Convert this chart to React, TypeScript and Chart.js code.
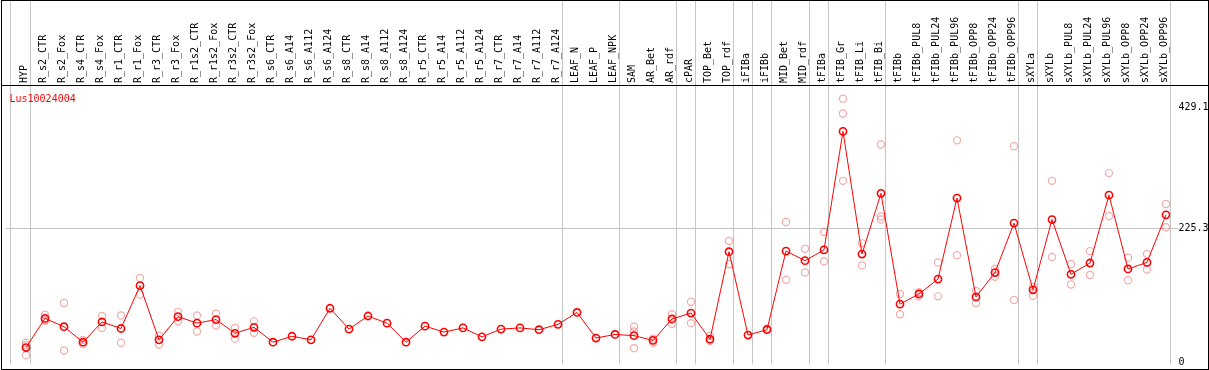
import { useEffect, useRef } from 'react';
import { Chart, registerables } from 'chart.js';

Chart.register(...registerables);

const seriesName = 'Lus10024004';

const categories = [
  'HYP', 'R_s2_CTR', 'R_s2_Fox', 'R_s4_CTR', 'R_s4_Fox', 'R_r1_CTR', 'R_r1_Fox', 'R_r3_CTR', 'R_r3_Fox',
  'R_r1s2_CTR', 'R_r1s2_Fox', 'R_r3s2_CTR', 'R_r3s2_Fox', 'R_s6_CTR', 'R_s6_A14', 'R_s6_A112', 'R_s6_A124',
  'R_s8_CTR', 'R_s8_A14', 'R_s8_A112', 'R_s8_A124', 'R_r5_CTR', 'R_r5_A14', 'R_r5_A112', 'R_r5_A124',
  'R_r7_CTR', 'R_r7_A14', 'R_r7_A112', 'R_r7_A124', 'LEAF_N', 'LEAF_P', 'LEAF_NPK', 'SAM', 'AR_Bet', 'AR_rdf',
  'cPAR', 'TOP_Bet', 'TOP_rdf', 'iFIBa', 'iFIBb', 'MID_Bet', 'MID_rdf', 'tFIBa', 'tFIB_Gr', 'tFIB_Li', 'tFIB_Bi',
  'tFIBb', 'tFIBb_PUL8', 'tFIBb_PUL24', 'tFIBb_PUL96', 'tFIBb_OPP8', 'tFIBb_OPP24', 'tFIBb_OPP96',
  'sXYLa', 'sXYLb', 'sXYLb_PUL8', 'sXYLb_PUL24', 'sXYLb_PUL96', 'sXYLb_OPP8', 'sXYLb_OPP24', 'sXYLb_OPP96',
];

const means = [
  25, 74, 60, 34, 68, 57, 129, 38, 77, 66, 72, 49, 59, 34, 44, 38, 91, 56, 78, 66, 34,
  61, 51, 58, 43, 56, 58, 55, 64, 84, 41, 47, 45, 37, 73, 83, 39, 186, 46, 55, 187, 171,
  189, 388, 182, 284, 98, 115, 140, 276, 110, 151, 234, 122, 240, 148, 167, 281, 157, 168, 248,
];

const replicates: number[][] = [
  [33, 29, 12], [80, 72, 70], [100, 20], [38, 31], [78, 58], [79, 33], [142, 114], [45, 30], [85, 69],
  [79, 52], [82, 62], [58, 40], [69, 50], [], [], [], [], [], [], [], [],
  [], [], [], [], [], [], [], [], [], [], [], [60, 52, 24], [40, 33, 37], [81, 65], [102, 66], [45, 36],
  [204, 165], [], [57], [236, 139], [191, 151], [219, 170], [443, 418, 305], [200, 163], [366, 245, 240],
  [115, 81], [118, 111], [168, 111], [373, 180], [120, 100], [157, 144], [363, 105], [127, 112], [305, 177],
  [165, 131], [187, 147], [318, 246], [176, 138], [182, 156], [266, 227],
];

// index of the last category in each group (a separator follows it)
const groupEnds = [0, 28, 31, 34, 35, 37, 38, 39, 41, 42, 45, 52, 53, 60];
const leadingSeparator = -0.8;

const yTickValues = [0, 225.3, 429.1];
const yTickLabels = ['0', '225.3', '429.1'];

export default function App() {
  const ref = useRef<HTMLCanvasElement>(null);

  useEffect(() => {
    document.body.style.margin = '0';
    const canvas = ref.current;
    if (!canvas) return;

    const LABEL_SHIFT = 0.55;
    const SEP_SHIFT = 0.237;
    const n = categories.length;
    const tickValues = [
      ...categories.map((_, i) => i + LABEL_SHIFT),
      leadingSeparator,
      ...groupEnds.map((g) => g + SEP_SHIFT),
    ];

    const frame = {
      id: 'frame',
      afterDraw(chart: any) {
        const ctx = chart.ctx;
        ctx.save();
        ctx.strokeStyle = '#000';
        ctx.lineWidth = 1;
        ctx.strokeRect(1.5, 0.5, chart.width - 2, chart.height - 1);
        ctx.beginPath();
        ctx.moveTo(1, chart.chartArea.top + 0.5);
        ctx.lineTo(chart.width, chart.chartArea.top + 0.5);
        ctx.stroke();
        ctx.fillStyle = '#ff0000';
        ctx.font = '10px "DejaVu Sans Mono"';
        ctx.textBaseline = 'alphabetic';
        ctx.textAlign = 'left';
        ctx.fillText(chart.data.datasets[0].label, 9.5, chart.chartArea.top + 16.5);
        ctx.restore();
      },
    };

    const chart = new Chart(canvas, {
      type: 'line',
      data: {
        datasets: [
          {
            label: seriesName,
            data: means.map((v, i) => ({ x: i, y: v })),
            borderColor: '#ff0000',
            borderWidth: 1,
            pointRadius: 3.6,
            pointBorderWidth: 1.6,
            pointBorderColor: '#ff0000',
            pointBackgroundColor: 'rgba(0,0,0,0)',
            order: 0,
          },
          {
            label: 'replicates',
            data: replicates.flatMap((r, i) => r.map((v) => ({ x: i, y: v }))),
            showLine: false,
            pointRadius: 3.6,
            pointBorderWidth: 1.2,
            pointBorderColor: 'rgba(230,90,90,0.5)',
            pointBackgroundColor: 'rgba(0,0,0,0)',
            order: 1,
          },
        ],
      },
      options: {
        animation: false,
        responsive: false,
        layout: { padding: { left: 2, right: 0, top: 0, bottom: 1 } },
        plugins: {
          legend: { display: false },
          tooltip: { enabled: false },
          title: { display: false },
        },
        scales: {
          x: {
            type: 'linear',
            position: 'top',
            min: -1.074,
            max: 60.237,
            afterBuildTicks: (scale: any) => {
              scale.ticks = tickValues.map((v) => ({ value: v }));
            },
            afterFit: (scale: any) => {
              scale.height = 85;
              scale.paddingLeft = 0;
              scale.paddingRight = 0;
            },
            ticks: {
              autoSkip: false,
              minRotation: 90,
              maxRotation: 90,
              padding: -83,
              color: '#000',
              font: { family: 'DejaVu Sans Mono', size: 10 },
              callback: (_v: any, index: number) => (index < n ? categories[index] : ''),
            },
            grid: {
              color: (ctx: any) => (ctx.index >= n ? '#c4c4c4' : 'rgba(0,0,0,0)'),
              lineWidth: 1,
              drawTicks: true,
              tickLength: 85,
            },
            border: { display: false },
          },
          y: {
            type: 'linear',
            position: 'right',
            min: -3.27,
            max: 465.96,
            afterBuildTicks: (scale: any) => {
              scale.ticks = yTickValues.map((v) => ({ value: v }));
            },
            afterFit: (scale: any) => {
              scale.width = 38.5;
              scale.paddingTop = 0;
              scale.paddingBottom = 0;
            },
            ticks: {
              padding: 0,
              color: '#000',
              font: { family: 'DejaVu Sans Mono', size: 10 },
              callback: (_v: any, index: number) => yTickLabels[index],
            },
            grid: {
              color: (ctx: any) => (ctx.tick && ctx.tick.value === 225.3 ? '#c4c4c4' : 'rgba(0,0,0,0)'),
              lineWidth: 1,
              drawTicks: true,
              tickLength: 8,
            },
            border: { display: false },
          },
        },
      },
      plugins: [frame],
    });

    return () => chart.destroy();
  }, []);

  return <canvas ref={ref} width={1209} height={370} style={{ display: 'block' }} />;
}
